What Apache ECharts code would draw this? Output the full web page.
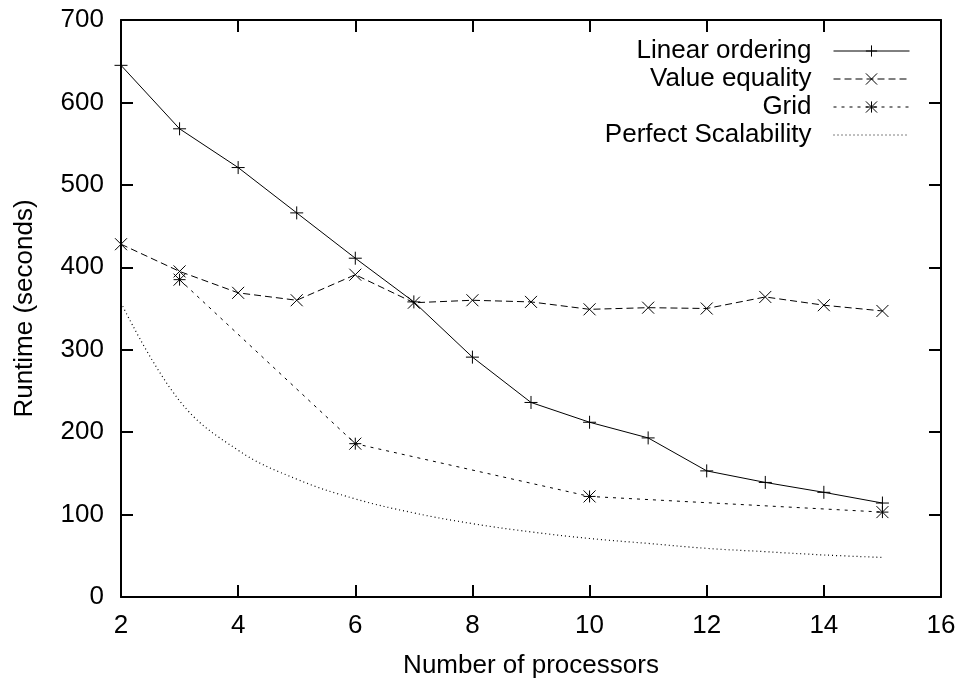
<!DOCTYPE html>
<html>
<head>
<meta charset="utf-8">
<script src="https://cdn.jsdelivr.net/npm/echarts@6/dist/echarts.min.js"></script>
<style>
  html, body { margin: 0; padding: 0; background: #fff; }
  #chart { width: 965px; height: 684px; }
</style>
</head>
<body>
<div id="chart"></div>
<script>
// Processor counts and measured runtimes (seconds)
const linearProcs = [2, 3, 4, 5, 6, 7, 8, 9, 10, 11, 12, 13, 14, 15];
const linearOrdering = [645, 568, 521, 466, 411, 358, 291, 236, 212, 193, 153, 139, 127, 114];

const equalityProcs = [2, 3, 4, 5, 6, 7, 8, 9, 10, 11, 12, 13, 14, 15];
const valueEquality = [428, 395, 369, 360, 391, 357, 360, 358, 349, 351, 350, 364, 354, 347];

const gridProcs = [3, 6, 10, 15];
const gridRuntime = [385, 186, 122, 103];

const idealProcs = [2, 3, 4, 5, 6, 7, 8, 9, 10, 11, 12, 13, 14, 15];
const perfectScalability = [357, 238, 178, 143, 119, 102, 89, 79, 71, 65, 59, 55, 51, 48];

const xTicks = { min: 2, max: 16, step: 2 };
const yTicks = { min: 0, max: 700, step: 100 };

const FONT = '"Liberation Sans", Arial, Helvetica, sans-serif';
const FONT_SIZE = 26;
const pairs = (xs, ys) => xs.map((x, i) => [x, ys[i]]);

// gnuplot-style point glyphs drawn as stroked paths
const PLUS = 'path://M0,6L12,6M6,0L6,12';
const CROSS = 'path://M0,0L12,12M12,0L0,12';
const STAR = 'path://M0,6L12,6M6,0L6,12M0,0L12,12M12,0L0,12';

const markStyle = { color: '#000', borderColor: '#000', borderWidth: 1 };

const chart = echarts.init(document.getElementById('chart'), null, { renderer: 'canvas' });

const axisCommon = {
  type: 'value',
  axisLine: { show: true, onZero: false, lineStyle: { color: '#000', width: 2 } },
  axisTick: { show: true, inside: true, length: 12, lineStyle: { color: '#000', width: 2 } },
  splitLine: { show: false }
};

chart.setOption({
  backgroundColor: '#fff',
  animation: false,
  textStyle: { fontFamily: FONT },
  grid: { left: 121, right: 24, top: 20, bottom: 86, containLabel: false },
  legend: {
    orient: 'vertical',
    right: 50,
    top: 33,
    align: 'right',
    itemWidth: 76,
    itemHeight: 14,
    itemGap: 2,
    textStyle: { fontSize: FONT_SIZE, color: '#000', fontFamily: FONT, padding: [0, 17, 0, 0] },
    itemStyle: { borderWidth: 1, borderColor: '#000', color: '#000' },
    lineStyle: { width: 1, color: '#000' },
    data: [
      'Linear ordering',
      'Value equality',
      'Grid',
      { name: 'Perfect Scalability', itemStyle: { opacity: 0 } }
    ]
  },
  xAxis: [
    Object.assign({}, axisCommon, {
      position: 'bottom',
      min: xTicks.min, max: xTicks.max, interval: xTicks.step,
      name: 'Number of processors',
      nameLocation: 'middle',
      nameGap: 56,
      nameTextStyle: { fontSize: FONT_SIZE, color: '#000', fontFamily: FONT },
      axisLabel: { fontSize: FONT_SIZE, color: '#000', margin: 16, fontFamily: FONT }
    }),
    Object.assign({}, axisCommon, {
      position: 'top',
      min: xTicks.min, max: xTicks.max, interval: xTicks.step,
      axisLabel: { show: false }
    })
  ],
  yAxis: [
    Object.assign({}, axisCommon, {
      position: 'left',
      min: yTicks.min, max: yTicks.max, interval: yTicks.step,
      name: 'Runtime (seconds)',
      nameLocation: 'middle',
      nameRotate: 90,
      nameGap: 83,
      nameTextStyle: { fontSize: FONT_SIZE, color: '#000', fontFamily: FONT },
      axisLabel: { fontSize: FONT_SIZE, color: '#000', margin: 17, fontFamily: FONT }
    }),
    Object.assign({}, axisCommon, {
      position: 'right',
      min: yTicks.min, max: yTicks.max, interval: yTicks.step,
      axisLabel: { show: false }
    })
  ],
  series: [
    {
      name: 'Perfect Scalability',
      type: 'line',
      data: pairs(idealProcs, perfectScalability),
      smooth: 0.4,
      symbol: 'none',
      lineStyle: { color: '#000', width: 1.2, type: [1, 3] },
      itemStyle: { color: '#000' },
      z: 1
    },
    {
      name: 'Grid',
      type: 'line',
      data: pairs(gridProcs, gridRuntime),
      symbol: STAR,
      symbolSize: 12,
      lineStyle: { color: '#000', width: 1, type: [3, 5] },
      itemStyle: markStyle,
      z: 2
    },
    {
      name: 'Value equality',
      type: 'line',
      data: pairs(equalityProcs, valueEquality),
      symbol: CROSS,
      symbolSize: 12,
      lineStyle: { color: '#000', width: 1, type: [7, 4] },
      itemStyle: markStyle,
      z: 3
    },
    {
      name: 'Linear ordering',
      type: 'line',
      data: pairs(linearProcs, linearOrdering),
      symbol: PLUS,
      symbolSize: 13,
      lineStyle: { color: '#000', width: 1, type: 'solid' },
      itemStyle: markStyle,
      z: 4
    }
  ]
});
</script>
</body>
</html>
